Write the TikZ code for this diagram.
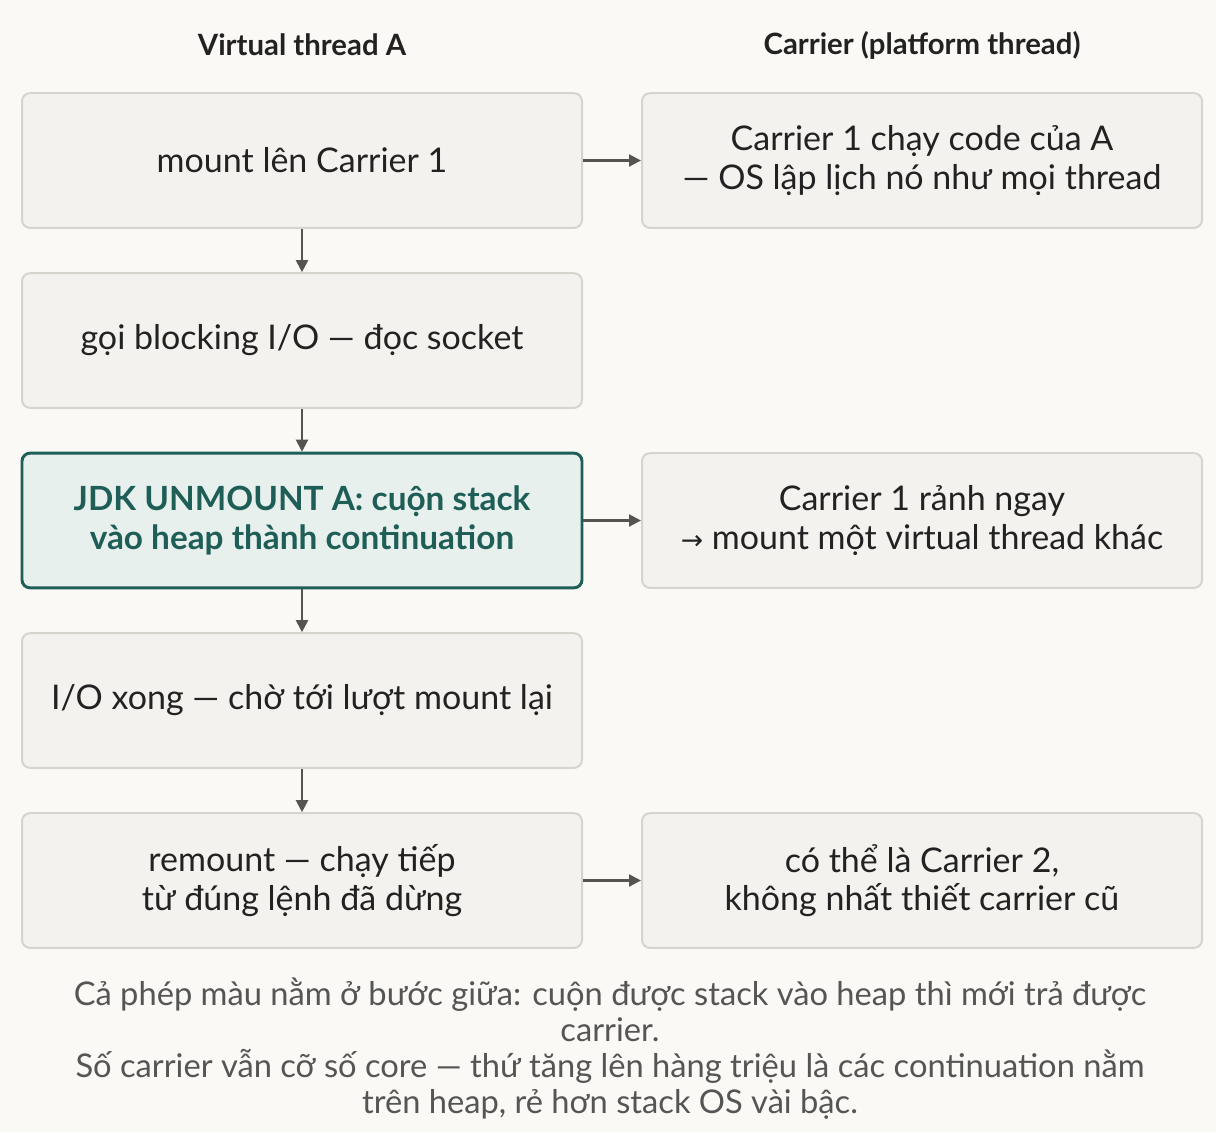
\documentclass[tikz,border=0pt]{standalone}
\usepackage{fontspec}
\setmainfont{Lato}
\usetikzlibrary{arrows.meta}
\definecolor{bg}{HTML}{FAF9F6}
\definecolor{boxf}{HTML}{F3F2EE}
\definecolor{boxd}{HTML}{D6D4CD}
\definecolor{hif}{HTML}{E8F0EE}
\definecolor{hid}{HTML}{1E5E56}
\definecolor{txt}{HTML}{222222}
\definecolor{arr}{HTML}{555550}
\definecolor{cap}{HTML}{555555}
\begin{document}
\begin{tikzpicture}[x=0.75pt,y=-0.75pt,
 box/.style={draw=boxd,fill=boxf,line width=1.5pt,rounded corners=6pt,minimum width=420pt,minimum height=101pt,align=center,font=\fontsize{25.5}{29}\selectfont,text=txt},
 hi/.style={box,draw=hid,fill=hif,line width=2.2pt,text=hid,font=\fontsize{25}{29}\selectfont\bfseries},
 hd/.style={font=\fontsize{22}{26}\selectfont\bfseries,text=txt},
 ar/.style={draw=arr,line width=1.6pt,-{Triangle[length=9pt,width=9pt]}}]
\fill[bg] (0,0) rectangle (1216,1132);
\useasboundingbox (0,0) rectangle (1216,1132);
\node[hd] (h1) at (302,45) {Virtual thread A};
\node[hd] (h2) at (922,45) {Carrier (platform thread)};
\node[box] (l1) at (302,160.5) {mount lên Carrier 1};
\node[box] (l2) at (302,340.5) {gọi blocking I/O — đọc socket};
\node[hi] (l3) at (302,520.5) {JDK UNMOUNT A: cuộn stack\\vào heap thành continuation};
\node[box] (l4) at (302,700.5) {I/O xong — chờ tới lượt mount lại};
\node[box] (l5) at (302,880.5) {remount — chạy tiếp\\từ đúng lệnh đã dừng};
\node[box] (r1) at (922,160.5) {Carrier 1 chạy code của A\\— OS lập lịch nó như mọi thread};
\node[box] (r3) at (922,520.5) {Carrier 1 rảnh ngay\\{\fontspec{DejaVu Sans}\fontsize{20}{29}\selectfont →} mount một virtual thread khác};
\node[box] (r5) at (922,880.5) {có thể là Carrier 2,\\không nhất thiết carrier cũ};
\draw[ar] (l1) -- (l2);
\draw[ar] (l2) -- (l3);
\draw[ar] (l3) -- (l4);
\draw[ar] (l4) -- (l5);
\draw[ar] (l1) -- (r1);
\draw[ar] (l3) -- (r3);
\draw[ar] (l5) -- (r5);
\node[align=center,text=cap,font=\fontsize{24.5}{27}\selectfont] (c) at (610,1049) {Cả phép màu nằm ở bước giữa: cuộn được stack vào heap thì mới trả được\\carrier.\\Số carrier vẫn cỡ số core — thứ tăng lên hàng triệu là các continuation nằm\\trên heap, rẻ hơn stack OS vài bậc.};
\end{tikzpicture}
\end{document}
